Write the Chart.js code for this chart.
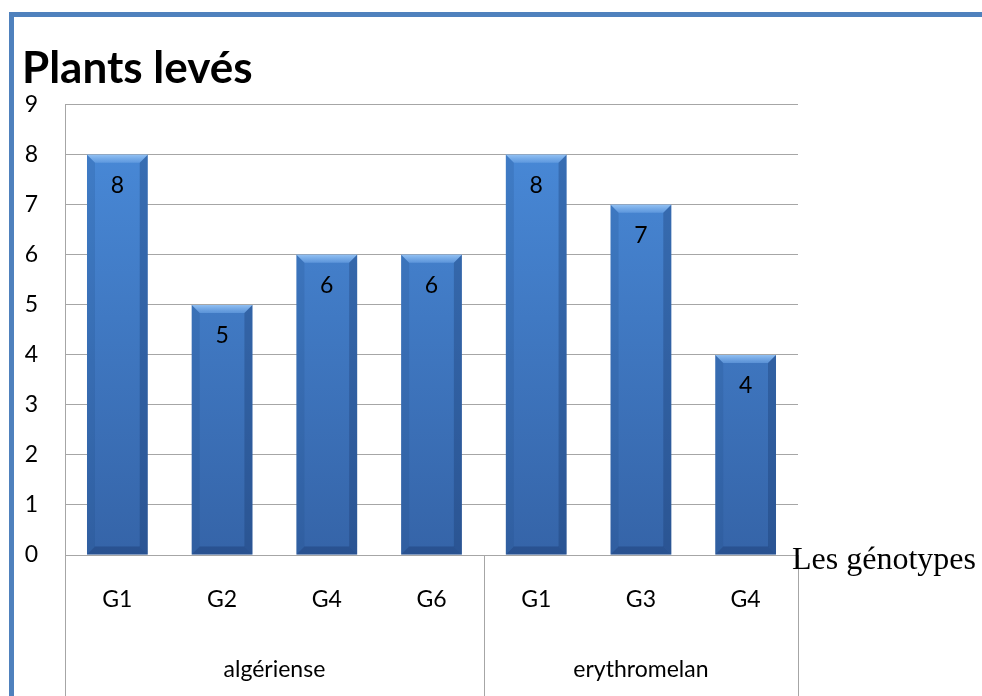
<!DOCTYPE html>
<html>
<head>
<meta charset="utf-8">
<script src="https://cdn.jsdelivr.net/npm/chart.js@4.4.1/dist/chart.umd.min.js"></script>
<style>
  html, body { margin: 0; padding: 0; background: #fff; overflow: hidden; }
  #frame {
    position: absolute; left: 9px; top: 12px; width: 1100px; height: 800px;
    border-left: 5px solid #4f81bd; border-top: 5px solid #4f81bd;
  }
  #wrap { position: absolute; left: 0; top: 0; width: 982px; height: 696px; }
</style>
</head>
<body>
<div id="frame"></div>
<div id="wrap"><canvas id="c" width="982" height="696"></canvas></div>
<script>
/* Plants levés par génotype */
const genotypes = ["G1", "G2", "G4", "G6", "G1", "G3", "G4"];
const plantsLeves = [8, 5, 6, 6, 8, 7, 4];
const groups = ["algériense", "erythromelan"];
const groupSizes = [4, 3];
const yTicks = [0, 1, 2, 3, 4, 5, 6, 7, 8, 9];

const FONT = "Lato, 'Open Sans', sans-serif";
const GRID = "#a6a6a6";

const barLook = {
  id: "barLook",
  afterDatasetsDraw(chart) {
    const { ctx } = chart;
    const meta = chart.getDatasetMeta(0);
    const b = 8;
    ctx.save();
    meta.data.forEach((bar, i) => {
      const left = bar.x - bar.width / 2;
      const right = bar.x + bar.width / 2;
      const top = bar.y;
      const bottom = bar.base;
      // top bevel
      const tg = ctx.createLinearGradient(0, top, 0, top + b);
      tg.addColorStop(0, "rgba(150,196,245,0.95)");
      tg.addColorStop(1, "rgba(110,165,230,0.6)");
      ctx.fillStyle = tg;
      ctx.beginPath();
      ctx.moveTo(left, top);
      ctx.lineTo(right, top);
      ctx.lineTo(right - b, top + b);
      ctx.lineTo(left + b, top + b);
      ctx.closePath();
      ctx.fill();
      // side bevels
      ctx.fillStyle = "rgba(30,70,130,0.18)";
      ctx.beginPath();
      ctx.moveTo(left, top);
      ctx.lineTo(left + b, top + b);
      ctx.lineTo(left + b, bottom - b);
      ctx.lineTo(left, bottom);
      ctx.closePath();
      ctx.fill();
      ctx.fillStyle = "rgba(20,50,100,0.3)";
      ctx.beginPath();
      ctx.moveTo(right, top);
      ctx.lineTo(right - b, top + b);
      ctx.lineTo(right - b, bottom - b);
      ctx.lineTo(right, bottom);
      ctx.closePath();
      ctx.fill();
      // bottom bevel
      ctx.fillStyle = "rgba(20,50,100,0.35)";
      ctx.beginPath();
      ctx.moveTo(left, bottom);
      ctx.lineTo(right, bottom);
      ctx.lineTo(right - b, bottom - b);
      ctx.lineTo(left + b, bottom - b);
      ctx.closePath();
      ctx.fill();
      // value label
      ctx.fillStyle = "#000";
      ctx.font = "23px " + FONT;
      ctx.textAlign = "center";
      ctx.textBaseline = "middle";
      ctx.fillText(String(plantsLeves[i]), bar.x, top + 31);
    });
    ctx.restore();
  },
};

const groupAxis = {
  id: "groupAxis",
  afterDraw(chart) {
    const { ctx, chartArea } = chart;
    const x = chart.scales.x;
    const step = x.getPixelForValue(1) - x.getPixelForValue(0);
    ctx.save();
    ctx.strokeStyle = GRID;
    ctx.lineWidth = 1;
    let start = 0;
    const edges = [x.getPixelForValue(0) - step / 2];
    groups.forEach((g, gi) => {
      const end = start + groupSizes[gi] - 1;
      const x0 = x.getPixelForValue(start) - step / 2;
      const x1 = x.getPixelForValue(end) + step / 2;
      edges.push(x1);
      ctx.fillStyle = "#000";
      ctx.font = "23px " + FONT;
      ctx.textAlign = "center";
      ctx.textBaseline = "middle";
      ctx.fillText(g, (x0 + x1) / 2, chartArea.bottom + 115);
      start = end + 1;
    });
    edges.forEach((e) => {
      const px = Math.round(e) + 0.5;
      ctx.beginPath();
      ctx.moveTo(px, chartArea.bottom);
      ctx.lineTo(px, chart.height);
      ctx.stroke();
    });
    // axis title
    ctx.fillStyle = "#000";
    ctx.font = "32px 'Liberation Serif', 'DejaVu Serif', serif";
    ctx.textAlign = "left";
    ctx.textBaseline = "middle";
    ctx.fillText("Les génotypes", chartArea.right - 6, chartArea.bottom + 6);
    ctx.restore();
  },
};

const ctx = document.getElementById("c").getContext("2d");
new Chart(ctx, {
  type: "bar",
  data: {
    labels: genotypes,
    datasets: [
      {
        data: plantsLeves,
        backgroundColor: (c) => {
          const area = c.chart.chartArea;
          if (!area) return "#3f7acb";
          const g = c.chart.ctx.createLinearGradient(0, area.top, 0, area.bottom);
          g.addColorStop(0, "#4a8cdb");
          g.addColorStop(1, "#3564a8");
          return g;
        },
        borderWidth: 0,
        barPercentage: 0.58,
        categoryPercentage: 1,
      },
    ],
  },
  options: {
    responsive: false,
    animation: false,
    layout: { padding: { left: 22, right: 184, bottom: 0, top: 0 } },
    plugins: {
      legend: { display: false },
      tooltip: { enabled: false },
      title: {
        display: true,
        text: "Plants levés",
        align: "start",
        color: "#000",
        font: { family: FONT, size: 44, weight: "bold" },
        padding: { top: 42, bottom: 10 },
      },
    },
    scales: {
      x: {
        grid: { display: false, drawTicks: false },
        border: { display: false },
        ticks: {
          color: "#000",
          font: { family: FONT, size: 23 },
          padding: 31,
          maxRotation: 0,
        },
        afterFit: (s) => { s.height = 141; },
      },
      y: {
        min: 0,
        max: 9,
        afterBuildTicks: (s) => { s.ticks = yTicks.map((v) => ({ value: v })); },
        grid: { color: GRID, drawTicks: false, lineWidth: 1 },
        border: { display: true, color: GRID, width: 1 },
        ticks: {
          color: "#000",
          font: { family: FONT, size: 23 },
          padding: 27,
        },
        afterFit: (s) => { s.width = 43; },
      },
    },
  },
  plugins: [barLook, groupAxis],
});
</script>
</body>
</html>
